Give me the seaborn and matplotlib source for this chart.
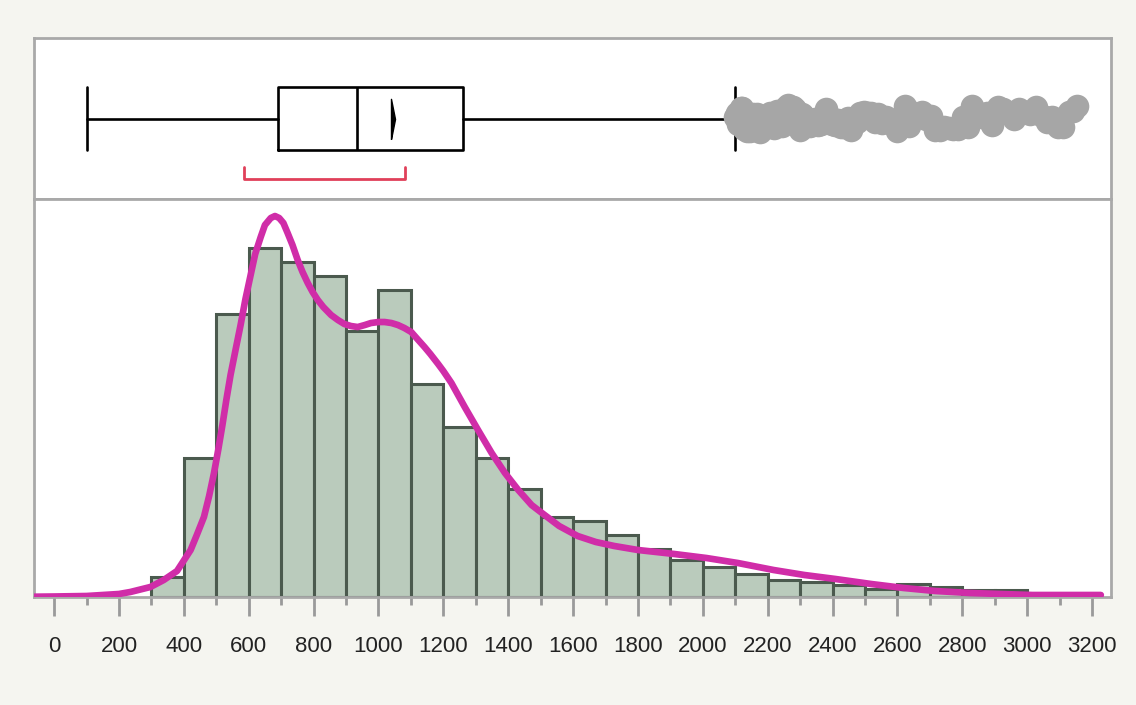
import numpy as np
import pandas as pd
import matplotlib
matplotlib.use("Agg")
import matplotlib.pyplot as plt
from matplotlib.path import Path
from matplotlib.ticker import MultipleLocator
import seaborn as sns

# histogram: bins of width 100 starting at 300
bin_edges = list(range(300, 3201, 100))
bin_counts = [20, 139, 283, 349, 335, 321, 266, 307, 213, 170, 139, 108,
              80, 76, 62, 48, 37, 30, 23, 17, 15, 12, 8, 13, 10, 7, 7, 3, 3]

# smooth density curve (same scale as counts)
curve_x = [-60, 0, 100, 200, 235, 297, 338, 379, 421, 440, 462, 478, 493,
           506, 519, 531, 544, 560, 575, 590, 606, 620, 637, 650, 668, 681,
           694, 707, 720, 735, 751, 766, 782, 797, 813, 830, 854, 875, 895,
           915, 936, 958, 977, 1000, 1019, 1040, 1060, 1080, 1101, 1120, 1142,
           1160, 1184, 1200, 1225, 1266, 1307, 1349, 1390, 1431, 1472, 1500,
           1557, 1614, 1670, 1727, 1800, 1912, 2011, 2108, 2218, 2313, 2409,
           2519, 2619, 2716, 2824, 2920, 3016, 3124, 3227]
curve_y = [0.3, 0.5, 1, 3, 5, 10, 17, 26, 47, 62, 80, 101, 124,
           147, 172, 197, 222, 248, 272, 298, 322, 343, 360, 372, 379, 381,
           379, 374, 364, 352, 337, 325, 314, 305, 297, 290, 282, 277, 273,
           271, 270, 272, 274, 275, 275, 274, 272, 269, 265, 258, 250,
           243, 233, 226, 214, 190, 167, 144, 124, 107, 92, 85,
           71, 61, 55, 51, 47, 43, 39, 34, 27, 22, 18,
           13, 9, 6, 4, 3, 2, 2, 2]

# box plot summary
whisker_lo, q1, median, q3, whisker_hi = 100, 690, 935, 1261, 2099
mean_val = 1039
short_half = (586, 1082)
outliers = [2100, 2104, 2109, 2113, 2118, 2122, 2127, 2131, 2136, 2141, 2146,
            2151, 2156, 2161, 2166, 2172, 2177, 2183, 2188, 2194, 2200, 2206,
            2212, 2218, 2224, 2230, 2237, 2243, 2250, 2257, 2264, 2271, 2278,
            2285, 2292, 2300, 2307, 2315, 2323, 2331, 2339, 2347, 2355, 2364,
            2372, 2381, 2390, 2399, 2408, 2417, 2426, 2436, 2446, 2456, 2466,
            2476, 2486, 2497, 2508, 2519, 2530, 2541, 2552, 2564, 2576, 2588,
            2600, 2612, 2624, 2637, 2650, 2663, 2676, 2689, 2702, 2716, 2730,
            2744, 2758, 2772, 2786, 2801, 2816, 2831, 2846, 2861, 2877, 2893,
            2909, 2925, 2941, 2958, 2975, 2992, 3009, 3026, 3043, 3060, 3077,
            3094, 3111, 3128, 3142, 3155]

bg = "#f5f5f0"
frame = "#a9a9a9"

sns.set_style("white")
plt.rcParams["font.family"] = ["Liberation Sans", "DejaVu Sans"]
np.random.seed(3)

hist_df = pd.DataFrame({"value": [e + 50 for e in bin_edges[:-1]],
                        "count": bin_counts})
curve_df = pd.DataFrame({"x": curve_x, "y": curve_y})

fig = plt.figure(figsize=(11.36, 7.05), dpi=100, facecolor=bg)
ax_top = fig.add_axes([0.0299, 0.7177, 0.948, 0.2284])
ax = fig.add_axes([0.0299, 0.1532, 0.948, 0.5645])

# top panel: outlier band, box and whiskers
sns.stripplot(x=outliers, ax=ax_top, color="#a6a6a6", size=17, jitter=0.17,
              linewidth=0, zorder=3)
stats = [dict(whislo=whisker_lo, q1=q1, med=median, q3=q3, whishi=whisker_hi,
              fliers=[], mean=mean_val)]
line = dict(color="black", linewidth=1.9)
ax_top.bxp(stats, positions=[0], widths=0.78, capwidths=0.78,
           orientation="horizontal", showfliers=False, manage_ticks=False,
           boxprops=line, whiskerprops=line, capprops=line, medianprops=line)
half_diamond = Path([(0, -1), (0.2, 0), (0, 1), (0, -1)])
ax_top.plot([mean_val], [0], marker=half_diamond, ms=29, color="black",
            linestyle="none", zorder=4)
ax_top.plot([short_half[0], short_half[0], short_half[1], short_half[1]],
            [-0.6, -0.75, -0.75, -0.6], color="#e0405a", lw=2, zorder=4)
ax_top.set_xlim(-62, 3258)
ax_top.set_ylim(-1, 1)
ax_top.set_xticks([])
ax_top.set_yticks([])
ax_top.set_xlabel("")
ax_top.set_ylabel("")

# bottom panel: histogram with density curve
sns.histplot(data=hist_df, x="value", weights="count", bins=bin_edges, ax=ax,
             color="#bacbbc", edgecolor="#4b5a4e", linewidth=2.2, alpha=1)
sns.lineplot(data=curve_df, x="x", y="y", ax=ax, color="#d02da8",
             linewidth=4.8, zorder=5)
ax.set_xlim(-62, 3258)
ax.set_ylim(0, 398)
ax.set_yticks([])
ax.set_ylabel("")
ax.set_xlabel("")
ax.xaxis.set_major_locator(MultipleLocator(200))
ax.xaxis.set_minor_locator(MultipleLocator(100))
ax.tick_params(axis="x", which="major", direction="out", length=14, width=2,
               color="#9a9a9a", labelsize=16, labelcolor="#222222", pad=14,
               bottom=True)
ax.tick_params(axis="x", which="minor", direction="out", length=6, width=2,
               color="#9a9a9a", bottom=True)

for a in (ax_top, ax):
    a.set_facecolor("white")
    for s in a.spines.values():
        s.set_visible(True)
        s.set_color(frame)
        s.set_linewidth(2)

fig.savefig("out.png", dpi=100, facecolor=bg)
